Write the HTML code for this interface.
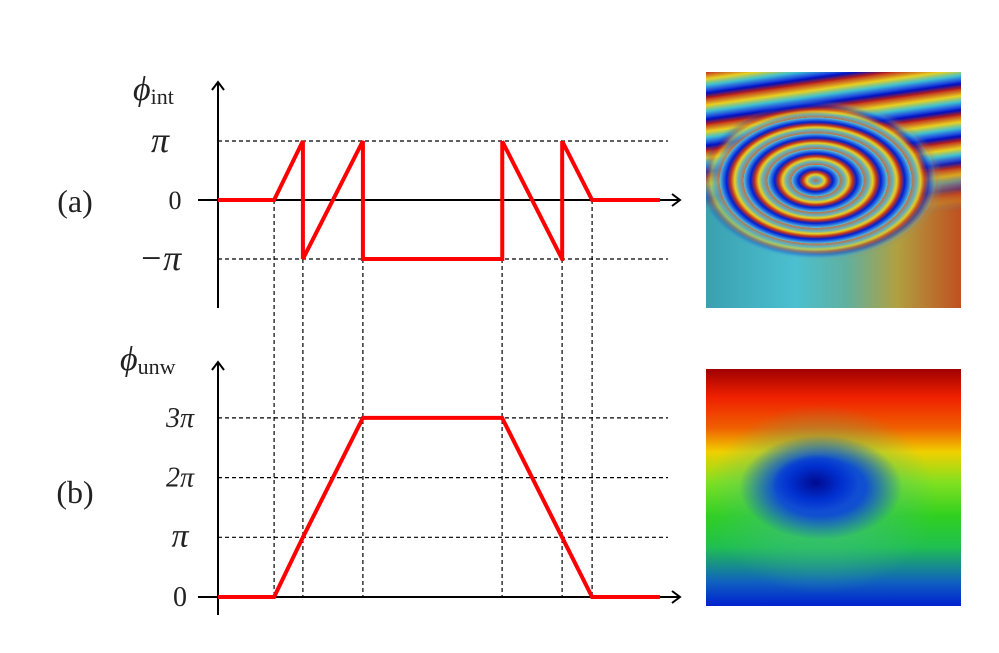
<!DOCTYPE html>
<html><head><meta charset="utf-8"><style>
body{margin:0;background:#fff;width:999px;height:653px;overflow:hidden;position:relative;font-family:"Liberation Serif",serif}
.img{position:absolute}
#ifg{left:706px;top:72px;width:255px;height:236px;overflow:hidden;
background:linear-gradient(90deg,#3aa0b0,#4bc0d0 35%,#60b0a0 55%,#b0a040 75%,#c05020);}
#ifg .bands{position:absolute;left:0;top:0;width:255px;height:140px;
background:repeating-linear-gradient(172deg,#c03020 0px,#e8d020 7px,#40c0d0 13px,#2050e0 18px,#0010c0 21px,#c02010 26px);
-webkit-mask-image:linear-gradient(180deg,#000 60%,transparent 100%);mask-image:linear-gradient(180deg,#000 60%,transparent 100%);}
#ifg .rings{position:absolute;left:0;top:0;width:255px;height:236px;
background:repeating-radial-gradient(ellipse 62% 44% at 43% 46%,#c07040 0px,#60b0c0 5px,#e8d020 9px,#c03020 13px,#0020d0 17px,#2060e0 20px,#60c0d0 24px);
-webkit-mask-image:radial-gradient(ellipse 48% 34% at 45% 46%,#000 80%,transparent 100%);mask-image:radial-gradient(ellipse 48% 34% at 45% 46%,#000 80%,transparent 100%);}
#unw{left:706px;top:369px;width:255px;height:237px;
background:radial-gradient(ellipse 17% 12% at 43% 48%,#000a90 0%,#0030d0 60%,rgba(0,60,220,0) 100%),
radial-gradient(ellipse 32% 22% at 45% 50%,#1040e0 0%,#1050d0 55%,rgba(40,200,40,0) 100%),
radial-gradient(ellipse 45% 40% at 45% 55%,#40c080 0%,rgba(40,200,40,0) 100%),
linear-gradient(180deg,#a00000 0%,#f02000 12%,#f06000 25%,#f0d000 35%,#80e020 48%,#30d020 62%,#20c050 75%,#1060c0 90%,#0020d0 100%);}
</style></head><body>
<div class="img" id="ifg"><div class="bands"></div><div class="rings"></div></div>
<div class="img" id="unw"></div>
<svg id="chart" width="999" height="653" style="position:absolute;left:0;top:0"></svg>
<script>
const times=[0,1.87,2.83,4.83,9.47,11.47,12.47,14.73];
const unwrapped=[0,0,1,3,3,1,0,0];
const wrappedTicks=["\u2212\u03c0","0","\u03c0"];
const unwTicks=["0","\u03c0","2\u03c0","3\u03c0"];
const NS="http://www.w3.org/2000/svg";
const svg=document.getElementById('chart');
const X=t=>218+t*30;
const Ya=v=>200-v*59;
const Yb=v=>597-v*59.7;
function el(tag,attrs,name){const e=document.createElementNS(NS,tag);for(const k in attrs)e.setAttribute(k,attrs[k]);


svg.appendChild(e);return e;}
function txt(x,y,s,size,name,anchor,italic){const e=el('text',{x:x,y:y,'font-size':size,'text-anchor':anchor||'middle','font-family':'Liberation Serif, serif',fill:'#222','font-style':italic?'italic':'normal'},name);e.textContent=s;return e;}
const dash={stroke:'#000','stroke-width':1.2,'stroke-dasharray':'4,3'};
[-1,1].forEach(v=>el('line',Object.assign({x1:218,x2:668,y1:Ya(v),y2:Ya(v)},dash),'grid-a'));
[1,2,3].forEach(v=>el('line',Object.assign({x1:218,x2:668,y1:Yb(v),y2:Yb(v)},dash),'grid-b'));
function wrap(u){return ((u+1)%2+2)%2-1;}
times.slice(1,7).forEach((t,i)=>{const u=unwrapped[i+1];const ytop=Math.round(u)%2===0?Ya(0):Ya(-1);
el('line',Object.assign({x1:X(t),x2:X(t),y1:ytop,y2:Yb(0)},dash),'time-marker');});
function arrowAxis(x1,y1,x2,y2,name){el('line',{x1,y1,x2,y2,stroke:'#000','stroke-width':2},name);
const dx=Math.sign(x2-x1),dy=Math.sign(y2-y1);
el('path',{d:dx?`M${x2-8*dx},${y2-6} L${x2},${y2} L${x2-8*dx},${y2+6}`:`M${x2-6},${y2-8*dy} L${x2},${y2} L${x2+6},${y2-8*dy}`,fill:'none',stroke:'#000','stroke-width':2},name+'-arrow');}
arrowAxis(198,200,680,200,'x-axis-a');arrowAxis(218,308,218,82,'y-axis-a');
arrowAxis(198,597,680,597,'x-axis-b');arrowAxis(218,615,218,362,'y-axis-b');
[-1,0,1].forEach((v,i)=>txt(v===0?175:160,Ya(v)+(v===0?9:11),wrappedTicks[i],v===0?26:36,'y-tick-a',null,v!==0));
[0,1,2,3].forEach((v,i)=>txt(180,Yb(v)+9,unwTicks[i],v===1?34:28,'y-tick-b',null,v!==0));
const la=txt(133,100,'\u03d5',34,'y-axis-title-a','start',true);const s1=document.createElementNS(NS,'tspan');s1.setAttribute('font-size','22');s1.setAttribute('dy','4');s1.setAttribute('font-style','normal');s1.textContent='int';la.appendChild(s1);
const lb=txt(120,370,'\u03d5',34,'y-axis-title-b','start',true);const s2=document.createElementNS(NS,'tspan');s2.setAttribute('font-size','22');s2.setAttribute('dy','4');s2.setAttribute('font-style','normal');s2.textContent='unw';lb.appendChild(s2);
txt(75,212,'(a)',32,'panel-label-a');txt(75,503,'(b)',32,'panel-label-b');
el('polyline',{points:times.map((t,i)=>X(t)+','+Yb(unwrapped[i])).join(' '),fill:'none',stroke:'#f00','stroke-width':4},'unwrapped-phase-line');
let pts=[];let prev=null;
for(let i=0;i<times.length-1;i++){const n=400;for(let k=0;k<=n;k++){const t=times[i]+(times[i+1]-times[i])*k/n;const u=unwrapped[i]+(unwrapped[i+1]-unwrapped[i])*k/n;
const w=wrap(u);
if(prev!==null&&Math.abs(w-prev)>1){pts.push(X(t)+','+Ya(Math.sign(prev)));pts.push(X(t)+','+Ya(Math.sign(w)));}
pts.push(X(t)+','+Ya(w));prev=w;}}
el('polyline',{points:pts.join(' '),fill:'none',stroke:'#f00','stroke-width':4},'wrapped-phase-line');
</script>
</body></html>
